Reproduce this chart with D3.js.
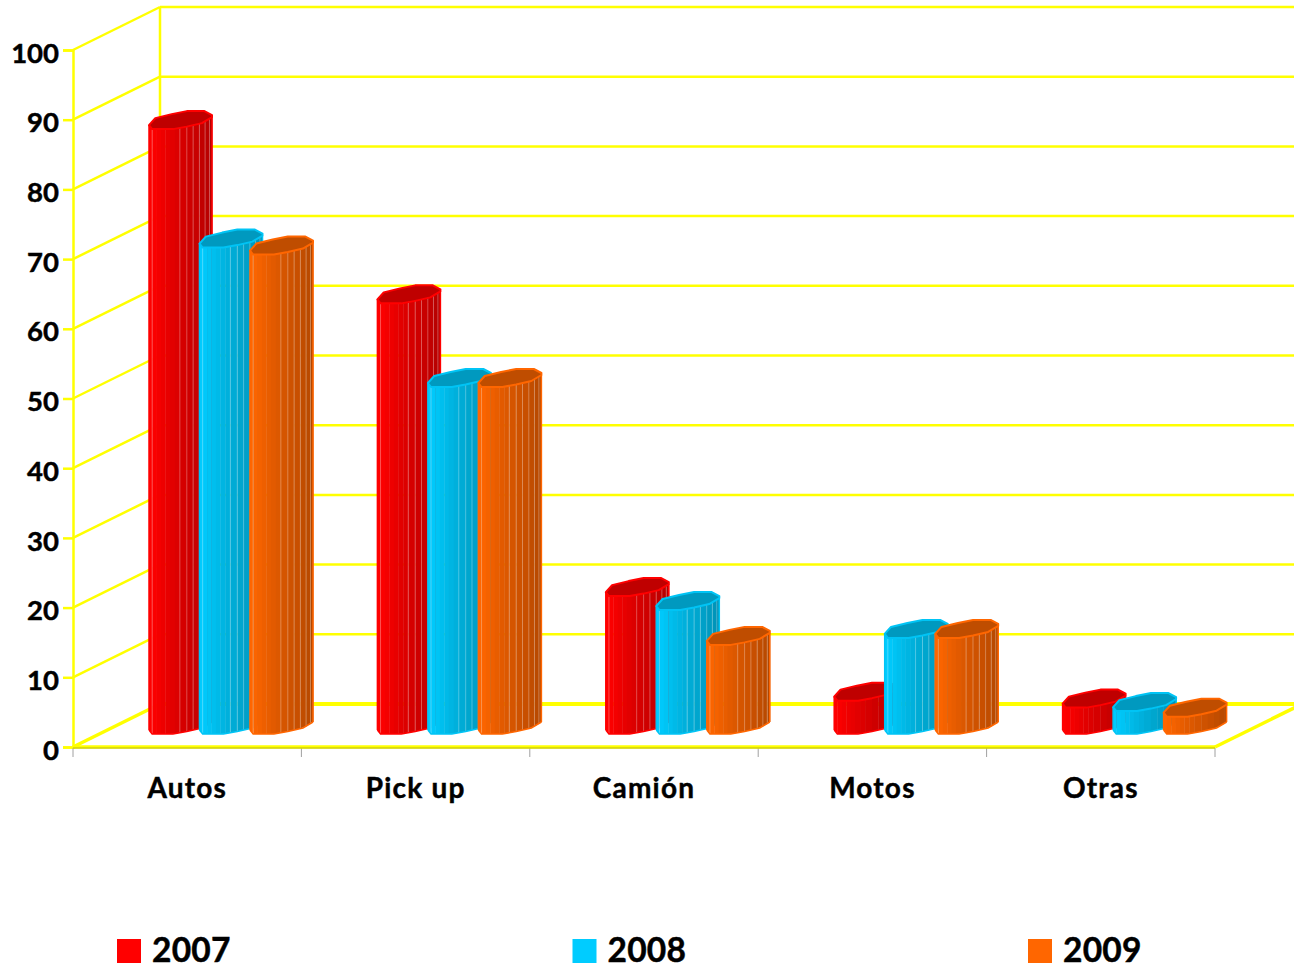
<!DOCTYPE html>
<html>
<head>
<meta charset="utf-8">
<script src="https://cdn.jsdelivr.net/npm/d3@7"></script>
<style>
  body { margin: 0; background: #fff; }
  text { font-family: Lato, "Open Sans", sans-serif; font-weight: 700; fill: #000; stroke: #000; stroke-width: 0.45; }
</style>
</head>
<body>
<div id="container"></div>
<script>
let categories = ["Autos", "Pick up", "Camión", "Motos", "Otras"];
let years = ["2007", "2008", "2009"];
let values2007 = [87, 62, 20, 5, 4];
let values2008 = [70, 50, 18, 14, 3.5];
let values2009 = [69, 50, 13, 14, 2.7];
let yTicks = [0, 10, 20, 30, 40, 50, 60, 70, 80, 90, 100];
let seriesValues = [values2007, values2008, values2009];

let frontColors = ["#ff0000", "#00ccff", "#ff6600"];
let sideColors = ["#b30000", "#0090b3", "#b34700"];
let topColors = ["#bf0000", "#0099bf", "#bf4d00"];
let edgeColors = ["#ff0000", "#00c4f5", "#ff6600"];

let svg = d3.select("#container")
  .append("svg")
  .attr("width", 1294)
  .attr("height", 969)
  .style("display", "block");

let left = 73, right = 1215, depthX = 87, depthY = 43;

let y = d3.scaleLinear().domain([0, 100]).range([747, 50]);
let x0 = d3.scaleBand().domain(categories).range([left, right]);
let x1 = d3.scaleBand().domain(years).range([76, 227.5]);
let barWidth = 63;
let barLift = 13;

// back wall and left wall
let grid = svg.append("g").attr("stroke", "#ffff00").attr("fill", "none");
yTicks.forEach(function (t) {
  let floor = t === 0;
  grid.append("line")
    .attr("x1", left + depthX).attr("x2", right + depthX)
    .attr("y1", y(t) - depthY).attr("y2", y(t) - depthY)
    .attr("stroke-width", floor ? 4 : 2.5);
  grid.append("line")
    .attr("x1", left).attr("x2", left + depthX)
    .attr("y1", y(t)).attr("y2", y(t) - depthY)
    .attr("stroke-width", floor ? 3.5 : 2.5);
});
grid.append("line")
  .attr("x1", left + depthX).attr("x2", left + depthX)
  .attr("y1", y(100) - depthY).attr("y2", y(0) - depthY)
  .attr("stroke-width", 2.5);
grid.append("line")
  .attr("x1", right).attr("x2", right + depthX)
  .attr("y1", y(0)).attr("y2", y(0) - depthY)
  .attr("stroke-width", 3.5);

// y axis
let yAxis = svg.append("g")
  .attr("transform", "translate(" + left + ",0)")
  .call(d3.axisLeft(y).tickValues(yTicks).tickSize(10).tickPadding(4));
yAxis.selectAll("line").attr("stroke", "#ffff00").attr("stroke-width", 2.5);
yAxis.select(".domain").attr("stroke", "#ffff00").attr("stroke-width", 2.5);
yAxis.selectAll("text").attr("font-size", 27.5).attr("font-family", null).attr("dy", "0.44em");

// x axis
let xAxis = svg.append("g")
  .attr("transform", "translate(0," + y(0) + ")")
  .call(d3.axisBottom(x0).tickSizeOuter(0).tickSize(0).tickPadding(31));
xAxis.select(".domain").remove();
xAxis.selectAll("text").attr("font-size", 28).attr("font-family", null).attr("letter-spacing", 1.2);

let tickEdges = categories.map(function (c) { return x0(c); }).concat([right]);
svg.append("g").selectAll("line").data(tickEdges).enter()
  .append("line")
  .attr("x1", function (d) { return d; })
  .attr("x2", function (d) { return d; })
  .attr("y1", y(0) + 1)
  .attr("y2", y(0) + 10)
  .attr("stroke", "#a0a0a0")
  .attr("stroke-width", 1);

svg.append("line")
  .attr("x1", left).attr("x2", right)
  .attr("y1", y(0)).attr("y2", y(0))
  .attr("stroke", "#ffff00")
  .attr("stroke-width", 3.5);
svg.append("line")
  .attr("x1", left).attr("x2", right)
  .attr("y1", y(0) + 1).attr("y2", y(0) + 1)
  .attr("stroke", "#9a9a20")
  .attr("stroke-width", 0.7);

// cross section of a bar, as fractions of its width, px offsets in y
let frontY = d3.scaleLinear()
  .domain([0, 0.05, 0.38, 0.6, 0.84, 1])
  .range([-4, 0, 0, -2.5, -6, -12]);
let backOutline = [[1, -14], [0.88, -18], [0.6, -18], [0.36, -15], [0.1, -11], [0, -4]];
let facetEdges = [0, 0.05, 0.12, 0.19, 0.26, 0.33, 0.41, 0.49, 0.6, 0.7, 0.8, 0.89, 0.96, 1];
let litEdges = [0.05, 0.49, 0.6, 0.7, 0.8, 0.89, 0.96];

function drawBar(group, barX, value, s) {
  let topY = y(value) - barLift + 1.5;
  let baseY = y(0) - barLift;
  let px = function (f) { return barX + f * barWidth; };
  let shade = d3.interpolateRgb(frontColors[s], sideColors[s]);

  d3.pairs(facetEdges).forEach(function (p, i) {
    let pts = [
      [px(p[0]), topY + frontY(p[0])],
      [px(p[1]) + 0.4, topY + frontY(p[1])],
      [px(p[1]) + 0.4, baseY + frontY(p[1])],
      [px(p[0]), baseY + frontY(p[0])]
    ];
    group.append("polygon")
      .attr("points", pts.join(" "))
      .attr("fill", shade(Math.pow(i / (facetEdges.length - 2), 1.1)));
  });

  if (baseY - topY > 40) {
    litEdges.forEach(function (f) {
      group.append("line")
        .attr("x1", px(f)).attr("x2", px(f))
        .attr("y1", topY + frontY(f)).attr("y2", baseY + frontY(f))
        .attr("stroke", "#ffffff")
        .attr("stroke-opacity", 0.3)
        .attr("stroke-width", 1);
    });
  }

  let frontEdge = frontY.domain().map(function (f) { return [px(f), frontY(f)]; });
  let outline = frontEdge.map(function (d) { return [d[0], baseY + d[1]]; });
  group.append("polyline")
    .attr("points", outline.join(" "))
    .attr("fill", "none")
    .attr("stroke", edgeColors[s])
    .attr("stroke-width", 1.5);
  group.append("line")
    .attr("x1", px(0)).attr("x2", px(0))
    .attr("y1", topY + frontY(0)).attr("y2", baseY + frontY(0))
    .attr("stroke", edgeColors[s]).attr("stroke-width", 1.5);
  group.append("line")
    .attr("x1", px(1)).attr("x2", px(1))
    .attr("y1", topY + frontY(1)).attr("y2", baseY + frontY(1))
    .attr("stroke", edgeColors[s]).attr("stroke-width", 1.5);

  let cap = frontEdge.map(function (d) { return [d[0], topY + d[1]]; })
    .concat(backOutline.map(function (d) { return [px(d[0]), topY + d[1]]; }));
  group.append("polygon")
    .attr("points", cap.join(" "))
    .attr("fill", topColors[s])
    .attr("stroke", edgeColors[s])
    .attr("stroke-width", 2)
    .attr("stroke-linejoin", "round");
}

let bars = svg.append("g").attr("class", "bars");
categories.forEach(function (c, i) {
  years.forEach(function (yr, s) {
    drawBar(bars.append("g"), x0(c) + x1(yr), seriesValues[s][i], s);
  });
});

// legend
let legendX = d3.scaleLinear().domain([0, 2]).range([117, 1028]);
let legend = svg.selectAll(".legend").data(years).enter()
  .append("g")
  .attr("class", "legend")
  .attr("transform", function (d, i) { return "translate(" + legendX(i) + ",939)"; });
legend.append("rect")
  .attr("width", 24)
  .attr("height", 24)
  .attr("fill", function (d, i) { return frontColors[i]; });
legend.append("text")
  .text(function (d) { return d; })
  .attr("x", 35)
  .attr("y", 23)
  .attr("font-size", 33.5)
  .attr("letter-spacing", 0.2);
</script>
</body>
</html>
